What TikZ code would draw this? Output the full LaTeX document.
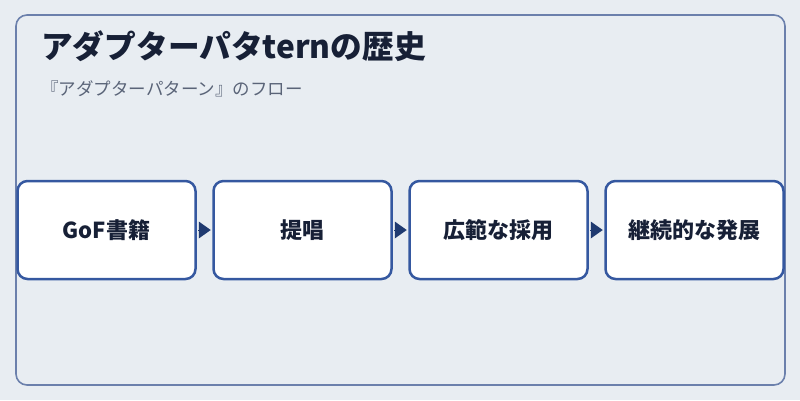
\documentclass[tikz,border=0pt]{standalone}
\usepackage{fontspec}
\setmainfont{Noto Sans CJK JP}
\usetikzlibrary{arrows.meta}
\definecolor{pagebg}{HTML}{E8EDF2}
\definecolor{framecol}{HTML}{6B80AC}
\definecolor{boxcol}{HTML}{3558A0}
\definecolor{arrowcol}{HTML}{1F3A70}
\definecolor{inkcol}{HTML}{172036}
\definecolor{subcol}{HTML}{5A6478}
\tikzset{
  stagebox/.style={draw=boxcol,fill=white,line width=2.5pt,rounded corners=10pt,
    minimum width=178pt,minimum height=98pt,inner sep=0pt,
    font=\fontsize{22pt}{22pt}\selectfont\bfseries,text=inkcol},
  flowarrow/.style={-{Triangle[length=12pt,width=17pt]},arrowcol,line width=0pt,
    shorten <=1.5pt,shorten >=1.5pt}
}

\begin{document}
\begin{tikzpicture}[x=1pt,y=-1pt]
		\useasboundingbox[fill=pagebg] (0,0) rectangle (800,400); % edit here for the page
		\draw[framecol,line width=1.6pt,rounded corners=11pt] (16,15) rectangle (785,385);
		\node[anchor=base west,inner sep=0pt,text=inkcol,font=\fontsize{31.7pt}{31.7pt}\selectfont\bfseries]
		(title) at (41,58) {アダプターパタternの歴史};
		\node[anchor=base west,inner sep=0pt,text=subcol,font=\fontsize{17.5pt}{17.5pt}\selectfont]
		(subtitle) at (41,95) {『アダプターパターン』のフロー};
		\foreach \i/\t in {1/GoF書籍,2/提唱,3/広範な採用,4/継続的な発展} % edit here for the stages
		\node[stagebox] (s\i) at ({106.5+196*(\i-1)},230) {\t};
		\foreach \i [evaluate=\i as \j using int(\i+1)] in {1,2,3} % edit here for the arrows
		\draw[flowarrow] (s\i.east) -- (s\j.west);
	\end{tikzpicture}
\end{document}
